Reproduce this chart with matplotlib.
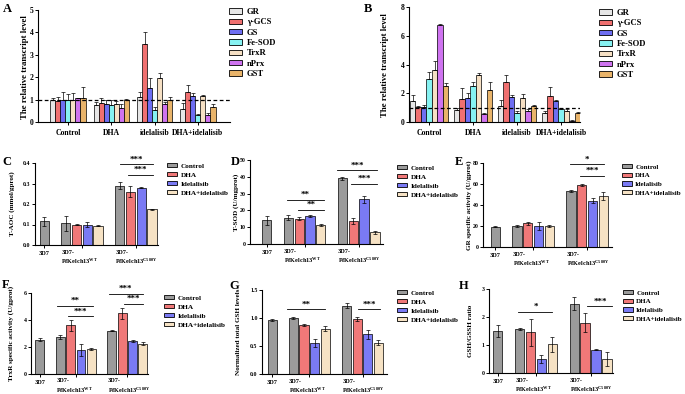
import matplotlib
matplotlib.use("Agg")
import matplotlib.pyplot as plt
from matplotlib.patches import Patch
import numpy as np

plt.rcParams['font.family'] = ['Liberation Serif', 'DejaVu Serif']
plt.rcParams['font.weight'] = 'bold'
plt.rcParams['mathtext.fontset'] = 'custom'
plt.rcParams['mathtext.rm'] = 'Liberation Serif:bold'
plt.rcParams['mathtext.bf'] = 'Liberation Serif:bold'
plt.rcParams['mathtext.it'] = 'Liberation Serif:bold'

W, H = 685, 394

# ---------------- data ----------------
genes = ['GR', 'γ-GCS', 'GS', 'Fe-SOD', 'TrxR', 'nPrx', 'GST']
gene_colors = ['#e6e6e6', '#f07070', '#6e6ef2', '#86f2f2', '#f6e0c4', '#cf73f0', '#e9b46a']
ab_groups = ['Control', 'DHA', 'idelalisib', 'DHA+idelalisib']

# rows: groups, columns: genes
a_means = [[1.00, 0.95, 1.00, 1.00, 1.00, 1.05, 1.05],
           [0.78, 0.85, 0.80, 0.78, 0.80, 0.62, 1.00],
           [1.10, 3.50, 1.50, 0.55, 1.95, 0.80, 1.00],
           [0.60, 1.35, 1.15, 0.30, 1.15, 0.30, 0.65]]
a_err = [[0.08, 0.15, 0.35, 0.25, 0.30, 0.03, 0.50],
         [0.10, 0.20, 0.18, 0.20, 0.15, 0.20, 0.02],
         [0.25, 0.50, 0.45, 0.10, 0.25, 0.10, 0.12],
         [0.25, 0.30, 0.15, 0.05, 0.05, 0.08, 0.15]]

b_means = [[1.45, 1.05, 1.05, 3.00, 3.65, 6.75, 2.50],
           [0.85, 1.60, 1.65, 2.50, 3.30, 0.55, 2.25],
           [1.10, 2.75, 1.75, 0.65, 1.65, 0.80, 1.10],
           [0.60, 1.80, 1.45, 0.90, 0.80, 0.10, 0.60]]
b_err = [[0.45, 0.05, 0.10, 0.50, 0.60, 0.10, 0.20],
         [0.15, 0.80, 0.40, 0.25, 0.10, 0.10, 0.50],
         [0.40, 0.55, 0.10, 0.10, 0.30, 0.10, 0.05],
         [0.15, 0.65, 0.10, 0.10, 0.10, 0.03, 0.10]]

treatments = ['Control', 'DHA', 'Idelalisib', 'DHA+idelalisib']
treat_colors = ['#9b9b9b', '#f07878', '#7a7af4', '#f6e2c4']
strains = ['3D7', '3D7-\nPfKelch13$^{WT}$', '3D7-\nPfKelch13$^{C580Y}$']
# bar order: 3D7 Control | WT Control, DHA, Idel, DHA+Idel | C580Y Control, DHA, Idel, DHA+Idel
bar_treat = [0, 0, 1, 2, 3, 0, 1, 2, 3]
bar_pos = [0, 2, 3, 4, 5, 7, 8, 9, 10]

c_means = [0.115, 0.105, 0.100, 0.100, 0.095, 0.290, 0.260, 0.280, 0.175]
c_err = [0.020, 0.035, 0.004, 0.010, 0.004, 0.015, 0.028, 0.004, 0.003]
d_means = [14.0, 15.5, 15.0, 16.5, 11.5, 39.0, 13.5, 26.5, 7.0]
d_err = [2.5, 1.5, 1.0, 0.5, 0.5, 1.0, 1.8, 1.8, 0.8]
e_means = [19.5, 20.0, 22.5, 20.0, 20.0, 53.5, 59.0, 44.0, 48.5]
e_err = [0.5, 0.5, 1.2, 3.5, 1.2, 0.7, 0.8, 2.5, 3.5]
f_means = [2.55, 2.75, 3.60, 1.80, 1.85, 3.20, 4.50, 2.45, 2.25]
f_err = [0.08, 0.15, 0.40, 0.45, 0.05, 0.05, 0.40, 0.10, 0.10]
g_means = [0.97, 1.00, 0.88, 0.56, 0.81, 1.22, 0.98, 0.71, 0.56]
g_err = [0.02, 0.01, 0.02, 0.07, 0.04, 0.05, 0.03, 0.08, 0.04]
h_means = [1.50, 1.58, 1.45, 0.50, 1.02, 2.48, 1.80, 0.83, 0.50]
h_err = [0.20, 0.03, 0.48, 0.15, 0.26, 0.24, 0.35, 0.02, 0.25]

# ---------------- layout helpers ----------------
fig = plt.figure(figsize=(W / 100, H / 100), dpi=100)


def px_axes(x0, y0, x1, y1):
    return fig.add_axes([x0 / W, 1 - y1 / H, (x1 - x0) / W, (y1 - y0) / H])


def style_axes(ax, tick_fs):
    for s in ['top', 'right']:
        ax.spines[s].set_visible(False)
    for s in ['left', 'bottom']:
        ax.spines[s].set_linewidth(0.8)
    ax.tick_params(axis='both', length=2, width=0.7, labelsize=tick_fs, pad=1.2)


def fig_text(x, y, s, **kw):
    fig.text(x / W, 1 - y / H, s, **kw)


def legend_at(ax, handles, labels, x, y, fs, spacing, hl, hh, tp=0.6):
    ax.legend(handles, labels, loc='upper left', bbox_to_anchor=(x / W, 1 - y / H),
              bbox_transform=fig.transFigure, frameon=False, fontsize=fs,
              handlelength=hl, handleheight=hh, labelspacing=spacing,
              handletextpad=tp, borderpad=0, borderaxespad=0)


# ---------------- panels A & B ----------------
def gene_panel(box, means, errs, ylim, yticks, xlim, bw, leg_xy, ylab_x):
    ax = px_axes(*box)
    style_axes(ax, 5.5)
    n = len(genes)
    for gi in range(len(ab_groups)):
        for k in range(n):
            x = gi + (k - (n - 1) / 2) * bw
            ax.bar(x, means[gi][k], width=bw, color=gene_colors[k],
                   edgecolor='black', linewidth=0.5, zorder=2)
            ax.errorbar(x, means[gi][k], yerr=[[0], [errs[gi][k]]], fmt='none',
                        ecolor='black', elinewidth=0.5, capsize=1.2, capthick=0.5, zorder=3)
    ax.axhline(1.0, color='black', linestyle=(0, (3, 2)), linewidth=0.9, zorder=4)
    ax.set_xlim(*xlim)
    ax.set_ylim(*ylim)
    ax.set_yticks(yticks)
    ax.set_xticks(range(len(ab_groups)))
    ax.set_xticklabels(ab_groups, fontsize=5.6)
    ax.tick_params(axis='x', pad=3)
    handles = [Patch(facecolor=c, edgecolor='black', linewidth=0.6) for c in gene_colors]
    legend_at(ax, handles, genes, leg_xy[0], leg_xy[1], 6.2, 0.27, 1.5, 0.6)
    fig_text(ylab_x, (box[1] + box[3]) / 2 + 1, 'The relative transcript level', rotation=90,
             ha='center', va='center', fontsize=6.3)
    return ax


gene_panel((38, 10, 230, 122), a_means, a_err, (0, 5), range(0, 6), (-0.69, 3.74), 0.116,
           (229, 8), 25)
gene_panel((409, 7, 580, 122), b_means, b_err, (0, 8), range(0, 9, 2), (-0.46, 3.43), 0.125,
           (599, 9), 385)

fig_text(3, 3, 'A', fontsize=9, va='top', ha='left')
fig_text(364, 3, 'B', fontsize=9, va='top', ha='left')


# ---------------- panels C - H ----------------
def strain_panel(box, means, errs, ylim, yticks, xlim, ylabel, ylab_x, leg_xy, sig, letter,
                 letter_xy, yfmt=None, leg_fs=5.2):
    ax = px_axes(*box)
    style_axes(ax, 4.2)
    for i in range(len(bar_pos)):
        ax.bar(bar_pos[i], means[i], width=0.86, color=treat_colors[bar_treat[i]],
               edgecolor='black', linewidth=0.5, zorder=2)
        ax.errorbar(bar_pos[i], means[i], yerr=errs[i], fmt='none', ecolor='black',
                    elinewidth=0.5, capsize=1.3, capthick=0.5, zorder=3)
    ax.set_xlim(*xlim)
    ax.set_ylim(*ylim)
    ax.set_yticks(yticks)
    if yfmt:
        ax.set_yticklabels([yfmt.format(v) for v in yticks])
    ax.set_xticks([0, 3.5, 8.5])
    ax.set_xticklabels([strains[0], '', ''], fontsize=4.5)
    ax.tick_params(axis='x', pad=2.5)
    tr = ax.get_xaxis_transform()
    ax.text(1.6, -0.055, strains[1], transform=tr, ha='left', va='top', fontsize=4.5,
            linespacing=1.35)
    ax.text(6.6, -0.055, strains[2], transform=tr, ha='left', va='top', fontsize=4.5,
            linespacing=1.35)
    for (x1, x2, yl, txt) in sig:
        ax.plot([x1, x2], [yl, yl], color='black', linewidth=0.6, clip_on=False, zorder=5)
        ax.annotate(txt, xy=((x1 + x2) / 2, yl), xytext=(0, 0.5), textcoords='offset points',
                    ha='center', va='bottom', fontsize=6.5, annotation_clip=False)
    handles = [Patch(facecolor=c, edgecolor='black', linewidth=0.6) for c in treat_colors]
    legend_at(ax, handles, treatments, leg_xy[0], leg_xy[1], leg_fs, 0.45, 1.4, 0.55, 0.5)
    fig_text(ylab_x, (box[1] + box[3]) / 2, ylabel, rotation=90, ha='center', va='center',
             fontsize=5.1)
    fig_text(letter_xy[0], letter_xy[1], letter, fontsize=9, va='top', ha='left')
    return ax


strain_panel((35, 163, 158, 245), c_means, c_err, (0, 0.4), [0.0, 0.1, 0.2, 0.3, 0.4],
             (-0.85, 10.55), 'T-AOC (mmol/gprot)', 12, (167, 163),
             [(7.0, 10.1, 0.394, '***'), (7.8, 10.1, 0.343, '***')], 'C', (2, 156), '{:.1f}')
strain_panel((250, 160, 383, 244), d_means, d_err, (0, 50), range(0, 51, 10),
             (-1.55, 10.75), 'T-SOD (U/mgprot)', 236, (397, 165),
             [(1.9, 5.25, 26.3, '**'), (2.9, 5.25, 20.4, '**'),
              (6.5, 10.2, 44.0, '***'), (7.8, 10.2, 35.8, '***')], 'D', (231, 156))
strain_panel((483, 163, 612, 247), e_means, e_err, (0, 80), range(0, 81, 20),
             (-1.15, 10.8), 'GR specific activity (U/gprot)', 469, (622, 164),
             [(6.9, 10.1, 78.7, '*'), (7.8, 10.1, 68.0, '***')], 'E', (455, 156), None, 5.0)
strain_panel((31, 293, 148, 374), f_means, f_err, (0, 6), range(0, 7, 2),
             (-0.85, 10.5), 'TrxR specific activity (U/gprot)', 11, (164, 295),
             [(1.7, 5.2, 5.06, '**'), (2.75, 5.2, 4.27, '***'),
              (6.7, 10.0, 5.95, '***'), (8.2, 10.0, 5.19, '***')], 'F', (2, 279))
strain_panel((262, 290, 387, 374), g_means, g_err, (0, 1.5), [0.0, 0.5, 1.0, 1.5],
             (-0.95, 10.8), 'Normalized total GSH levels', 238, (397, 290),
             [(1.4, 5.0, 1.155, '**'), (8.1, 10.15, 1.155, '***')], 'G', (229, 280), '{:.1f}')
strain_panel((489, 289, 613, 373), h_means, h_err, (0, 3), range(0, 4),
             (-0.8, 10.55), 'GSH/GSSH ratio', 471, (623, 290),
             [(1.9, 5.0, 2.18, '*'), (8.2, 10.5, 2.38, '***')], 'H', (459, 280), None, 5.0)

fig.savefig('out.png', dpi=100)
